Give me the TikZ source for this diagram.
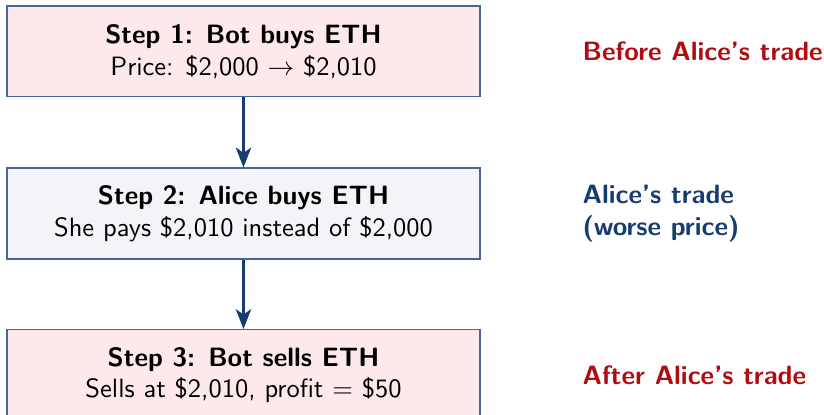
\documentclass[tikz,border=0pt]{standalone}
\usepackage{amsmath}
\usepackage{tikz}
\usetikzlibrary{positioning, arrows.meta}

\definecolor{boxline}{RGB}{72,102,150}
\definecolor{botfill}{RGB}{253,232,234}
\definecolor{alicefill}{RGB}{243,244,247}
\definecolor{arrowblue}{RGB}{22,60,112}
\definecolor{notered}{RGB}{176,12,16}
\definecolor{noteblue}{RGB}{22,60,112}

\tikzset{
    stepbox/.style={draw=boxline, line width=0.5pt, minimum width=178.5pt,
        minimum height=34.3pt, align=center, font=\sffamily, inner sep=2pt},
    flow/.style={arrowblue, line width=0.9pt, -{Stealth[length=7.5pt, width=5.8pt, inset=2pt]}},
    note/.style={font=\sffamily\bfseries, align=left, inner sep=0pt, anchor=west}
}

\begin{document}
\begin{tikzpicture}[x=1pt, y=1pt]
    % page frame
    \useasboundingbox (0,0) rectangle (311,-156.6);
    \clip (0,0) rectangle (311,-156.6);

    % steps
    \node[stepbox, fill=botfill] (buy) at (91.9,-19.4)
        {\textbf{Step 1: Bot buys ETH}\\ Price: \$2,000 $\rightarrow$ \$2,010};
    \node[stepbox, fill=alicefill, below=26.4pt of buy] (alice)
        {\textbf{Step 2: Alice buys ETH}\\ She pays \$2,010 instead of \$2,000};
    \node[stepbox, fill=botfill, below=26.2pt of alice] (sell)
        {\textbf{Step 3: Bot sells ETH}\\ Sells at \$2,010, profit $=$ \$50};

    % connectors
    \draw[flow] (buy) -- (alice);
    \draw[flow] (alice) -- (sell);

    % notes
    \node[note, notered, right=38.3pt of buy] (before) {Before Alice's trade};
    \node[note, noteblue, right=38.3pt of alice] (during) {Alice's trade\\(worse price)};
    \node[note, notered, right=38.3pt of sell] (after) {After Alice's trade};
\end{tikzpicture}
\end{document}
